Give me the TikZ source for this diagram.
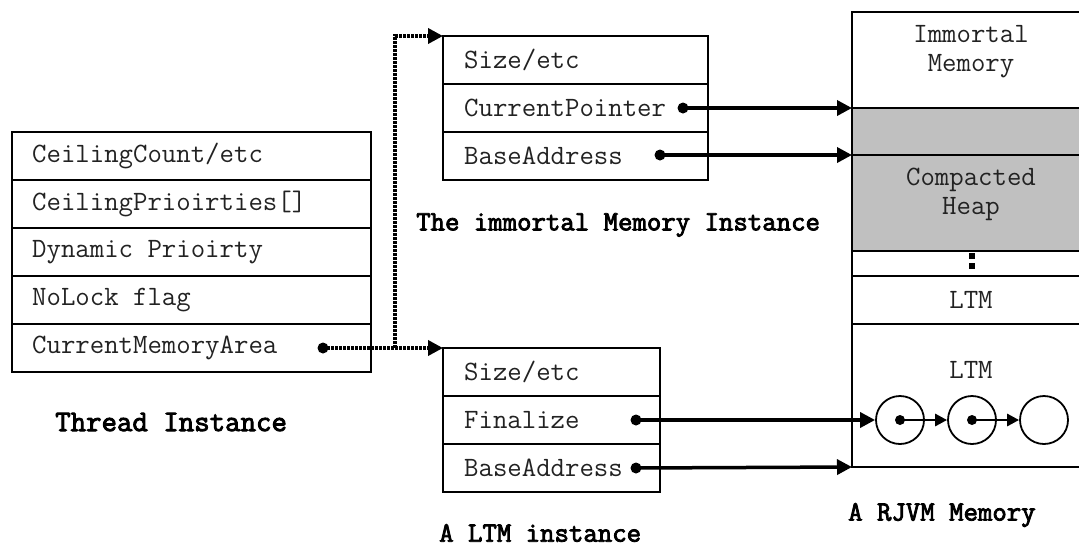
\documentclass[tikz,border=0pt]{standalone}
\usepackage{fontspec}
\newfontfamily\boldmono[FakeBold=3]{Latin Modern Mono}
\usetikzlibrary{arrows.meta}
\definecolor{heapgray}{HTML}{C0C0C0}
\definecolor{inkgray}{HTML}{222222}
\begin{document}
\begin{tikzpicture}[x=1pt,y=-1pt,
  cell/.style={draw, line width=2.4pt, minimum height=48pt, inner sep=0pt, outer sep=0pt, anchor=north west},
  txt/.style={font=\ttfamily\fontsize{28}{31}\selectfont, text=inkgray, inner sep=0pt, anchor=west},
  ctxt/.style={font=\ttfamily\fontsize{28}{29}\selectfont, text=inkgray, inner sep=0pt, align=center},
  lbl/.style={font=\boldmono\fontsize{28}{31}\selectfont, inner sep=0pt, anchor=west},
  dotn/.style={circle, fill=black, minimum size=11pt, inner sep=0pt},
  sdotn/.style={circle, fill=black, minimum size=10pt, inner sep=0pt},
  arr/.style={line width=3.5pt, -{Triangle[length=15pt,width=15pt]}},
  sarr/.style={line width=2.8pt, -{Triangle[length=12pt,width=12pt]}},
  dotline/.style={line width=3.6pt, dash pattern=on 2.6pt off 1.4pt},
  ring/.style={circle, draw, line width=1.8pt, minimum size=48pt, inner sep=0pt}
]
\useasboundingbox (0,0) rectangle (1079,547);

% Thread instance
\node[cell, minimum width=359pt] (t1) at (12,132) {};
\node[cell, minimum width=359pt] (t2) at (12,180) {};
\node[cell, minimum width=359pt] (t3) at (12,228) {};
\node[cell, minimum width=359pt] (t4) at (12,276) {};
\node[cell, minimum width=359pt] (t5) at (12,324) {};
\node[txt] (tt1) at ([xshift=20pt]t1.west) {CeilingCount/etc};
\node[txt] (tt2) at ([xshift=20pt]t2.west) {CeilingPrioirties[]};
\node[txt] (tt3) at ([xshift=20pt]t3.west) {Dynamic Prioirty};
\node[txt] (tt4) at ([xshift=20pt]t4.west) {NoLock flag};
\node[txt] (tt5) at ([xshift=20pt]t5.west) {CurrentMemoryArea};
\node[lbl, font=\boldmono\fontsize{30}{33}\selectfont] (tlab) at (55,422) {Thread Instance};

% Immortal memory instance
\node[cell, minimum width=265pt] (i1) at (443,36) {};
\node[cell, minimum width=265pt] (i2) at (443,84) {};
\node[cell, minimum width=265pt] (i3) at (443,132) {};
\node[txt] (it1) at ([xshift=21pt]i1.west) {Size/etc};
\node[txt] (it2) at ([xshift=21pt]i2.west) {CurrentPointer};
\node[txt] (it3) at ([xshift=21pt]i3.west) {BaseAddress};
\node[lbl] (ilab) at (416,225) {The immortal Memory Instance};

% LTM instance
\node[cell, minimum width=217pt] (l1) at (443,348) {};
\node[cell, minimum width=217pt] (l2) at (443,396) {};
\node[cell, minimum width=217pt] (l3) at (443,444) {};
\node[txt] (lt1) at ([xshift=21pt]l1.west) {Size/etc};
\node[txt] (lt2) at ([xshift=21pt]l2.west) {Finalize};
\node[txt] (lt3) at ([xshift=21pt]l3.west) {BaseAddress};
\node[lbl] (llab) at (439,533) {A LTM instance};

% RJVM memory
\node[cell, minimum width=238pt, minimum height=96pt] (m1) at (852,12) {};
\node[cell, minimum width=238pt, minimum height=47pt, fill=heapgray] (m2) at (852,108) {};
\node[cell, minimum width=238pt, minimum height=96pt, fill=heapgray] (m3) at (852,155) {};
\node[cell, minimum width=238pt, minimum height=25pt] (m4) at (852,251) {};
\node[cell, minimum width=238pt, minimum height=48pt] (m5) at (852,276) {};
\node[cell, minimum width=238pt, minimum height=143pt] (m6) at (852,324) {};
\node[ctxt] (mt1) at (971,52) {Immortal\\Memory};
\node[ctxt] (mt3) at (971,194) {Compacted\\Heap};
\node[ctxt] (mt5) at (971,300) {LTM};
\node[ctxt] (mt6) at (971,370) {LTM};
\coordinate (vd1) at (972,253);
\coordinate (vd2) at (972,271);
\draw[line width=6pt, dash pattern=on 6pt off 4pt] (vd1) -- (vd2);
\node[lbl] (mlab) at (848,515) {A RJVM Memory};

% finalizer chain
\node[ring] (c1) at (900,420) {};
\node[ring] (c2) at (972,420) {};
\node[ring] (c3) at (1044,420) {};
\node[sdotn] (cd1) at (c1.center) {};
\node[sdotn] (cd2) at (c2.center) {};
\draw[sarr] (cd1.center) -- (c2.west);
\draw[sarr] (cd2.center) -- (c3.west);

% pointers
\node[dotn] (dcp) at (683,108) {};
\node[dotn] (dba) at (660,155) {};
\node[dotn] (dfin) at (636,420) {};
\node[dotn] (dlba) at (636,468) {};
\node[dotn] (dcma) at (323,348) {};
\draw[arr] (dcp.center) -- (m2.north west);
\draw[arr] (dba.center) -- (m3.north west);
\draw[arr] (dfin.center) -- (c1.west);
\draw[arr] (dlba.center) -- (m6.south west);

% current memory area (dotted)
\coordinate (jn) at (395,348);
\draw[dotline] (dcma.center) -- (jn);
\draw[dotline, -{Triangle[length=15pt,width=15pt]}] (jn) -- (l1.north west);
\draw[dotline, -{Triangle[length=15pt,width=15pt]}] (jn) |- (i1.north west);
\end{tikzpicture}
\end{document}
